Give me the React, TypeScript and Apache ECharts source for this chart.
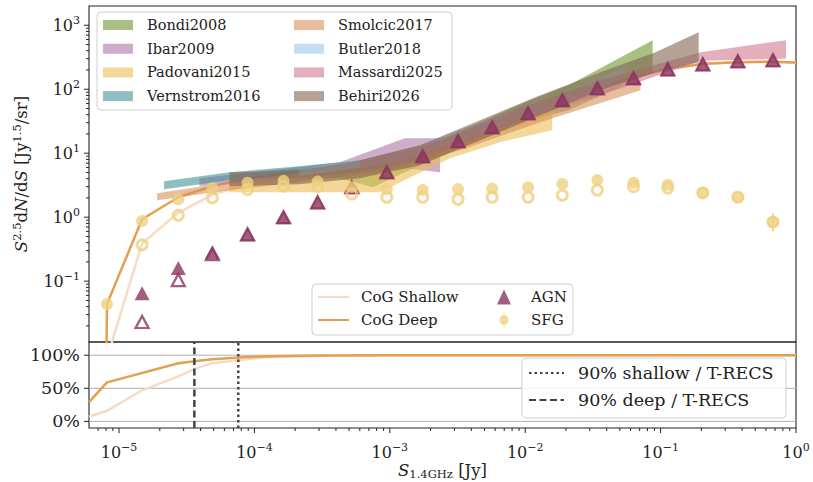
import React, { useEffect, useRef } from "react";
import * as echarts from "echarts";

const FONT = "DejaVu Serif";
const INK = "#222222";

// Axis extents
const S_MIN = 6e-6;
const S_MAX = 1;
const COUNTS_MIN = 0.0112;
const COUNTS_MAX = 2000;
const COMPL_MIN = -10;
const COMPL_MAX = 120;

// Flux-density bin centres [Jy]
const binCentres = [1.48e-5, 2.74e-5, 4.89e-5, 8.9e-5, 1.64e-4, 2.93e-4, 5.24e-4, 9.5e-4, 1.75e-3, 3.19e-3, 5.7e-3, 1.05e-2, 1.88e-2, 3.41e-2, 6.31e-2, 0.113, 0.205, 0.372, 0.676];
const sfgBins = [8.15e-6, 1.48e-5, 2.74e-5, 4.89e-5, 8.9e-5, 1.64e-4, 2.93e-4, 5.24e-4, 9.5e-4, 1.75e-3, 3.19e-3, 5.7e-3, 1.05e-2, 1.88e-2, 3.41e-2, 6.31e-2, 0.113, 0.205, 0.372, 0.676];

// Euclidean-normalised counts S^2.5 dN/dS [Jy^1.5/sr]
const agnDeep = [0.065, 0.16, 0.284, 0.54, 1.0, 1.71, 2.94, 5.05, 8.97, 15.4, 25.5, 42.2, 67.3, 104, 149, 205, 245, 274, 284];
const agnShallow = [0.023, 0.104, 0.264, 0.54, 1.0, 1.71, 2.94, 5.05, 8.97, 15.4, 25.5, 42.2, 67.3, 104, 149, 205, 245, 274, 284];
const sfgDeep = [0.044, 0.87, 1.9, 2.84, 3.45, 3.7, 3.6, 2.95, 2.75, 2.65, 2.75, 2.8, 2.95, 3.3, 3.8, 3.45, 3.2, 2.4, 2.05, 0.84];
const sfgShallow = [0.37, 1.07, 2.0, 2.7, 3.05, 3.0, 2.3, 2.05, 2.05, 1.9, 2.05, 2.05, 2.2, 2.65, 3.0, 2.85, 2.4, 2.05, 0.84];
// [S, lower, upper]
const sfgErrorBars = [[0.676, 0.6, 1.15]];

// Total counts recovered through the curve of growth
const cogDeepS = [7.9e-6, 8.15e-6, 1.48e-5, 2.74e-5, 4.89e-5, 8.9e-5, 1.64e-4, 2.93e-4, 5.24e-4, 9.5e-4, 1.75e-3, 3.19e-3, 5.7e-3, 1.05e-2, 1.88e-2, 3.41e-2, 6.31e-2, 0.113, 0.205, 0.372, 0.676, 1.0];
const cogDeepCounts = [1e-4, 0.044, 0.93, 2.05, 3.05, 4.0, 4.8, 5.3, 5.9, 7.8, 11.6, 18.0, 28.0, 45.0, 70.0, 108, 152, 208, 250, 265, 270, 262];
const cogShallowS = [8.15e-6, 1.48e-5, 2.74e-5, 4.89e-5, 8.9e-5, 1.64e-4, 2.93e-4, 5.24e-4, 9.5e-4, 1.75e-3, 3.19e-3, 5.7e-3, 1.05e-2, 1.88e-2, 3.41e-2, 6.31e-2, 0.113, 0.205, 0.372, 0.676, 1.0];
const cogShallowCounts = [0.0063, 0.39, 1.17, 2.26, 3.25, 4.1, 4.7, 5.2, 7.1, 10.9, 17.3, 27.5, 44, 69, 106, 150, 206, 248, 263, 268, 260];

// Completeness [%]
const complDeepS = [6e-6, 8.15e-6, 2.74e-5, 3.6e-5, 4.89e-5, 8.9e-5, 1.64e-4, 2.93e-4, 1e-3, 1.0];
const complDeep = [29, 59, 88, 91, 94, 97.5, 99, 99.5, 100, 100];
const complShallowS = [6e-6, 8.15e-6, 1.48e-5, 2.74e-5, 3.6e-5, 4.89e-5, 8.9e-5, 1.2e-4, 2.93e-4, 1e-3, 1.0];
const complShallow = [7, 16, 47, 68, 79, 88, 94, 97, 99, 100, 100];

// 90% completeness flux limits [Jy]
const shallow90 = 7.6e-5;
const deep90 = 3.6e-5;

// Literature source counts: [S, lower, upper]
const bondi2008 = [[1.53e-4, 3.79, 5.42], [4.26e-4, 4.07, 6.27], [7.48e-4, 2.94, 7.78], [1.67e-3, 6.49, 12.0], [4.64e-3, 16.0, 30.5], [1.09e-2, 32.8, 67.3], [2.09e-2, 47.0, 115], [8.73e-2, 184, 583]];
const ibar2009 = [[3.92e-5, 3.05, 4.07], [1.29e-4, 3.79, 5.42], [4.26e-4, 4.53, 7.23], [1.29e-3, 5.84, 17.1], [2.35e-3, 5.05, 17.1]];
const padovani2015 = [[6.53e-5, 2.46, 3.52], [3.03e-4, 2.46, 4.37], [8.43e-4, 2.46, 5.84], [2.78e-3, 8.36, 16.0], [6.53e-3, 14.9, 27.4], [1.58e-2, 22.9, 47.0]];
const vernstrom2016 = [[2.15e-5, 2.74, 3.65], [6.53e-5, 3.79, 5.05], [2.15e-4, 4.37, 6.27], [6.0e-4, 5.05, 7.78], [1.67e-3, 7.78, 12.0]];
const smolcic2017 = [[1.91e-5, 1.84, 2.37], [6.53e-5, 2.64, 3.52], [2.15e-4, 3.52, 5.05], [8.43e-4, 5.05, 7.78], [3.3e-3, 11.1, 17.1], [1.29e-2, 30.5, 50.5], [7.11e-2, 96.4, 138]];
const butler2018 = [[2.15e-4, 4.37, 5.42], [1.19e-3, 7.23, 10.4], [4.64e-3, 21.3, 30.5], [1.82e-2, 54.2, 77.8], [5.51e-2, 160, 229]];
const massardi2025 = [[6.0e-4, 5.05, 7.78], [2.35e-3, 10.4, 16.0], [9.18e-3, 32.8, 50.5], [3.59e-2, 80.6, 138], [0.198, 280, 379], [0.843, 300, 583]];
const behiri2026 = [[6.53e-5, 3.05, 5.05], [2.15e-4, 3.28, 5.42], [6.0e-4, 4.07, 7.78], [1.67e-3, 6.49, 13.3], [4.64e-3, 16.0, 32.8], [1.29e-2, 39.2, 80.6], [3.59e-2, 96.4, 184], [9.18e-2, 184, 379], [0.191, 264, 778]];

// Axis decoration values
const majorS = [1e-5, 1e-4, 1e-3, 1e-2, 1e-1, 1];
const majorCounts = [0.1, 1, 10, 100, 1000];
const complTicks = [0, 50, 100];

const AGN_COLOR = "#8c345f";
const SFG_COLOR = "#efd181";
const COG_DEEP = "#e3a052";
const COG_SHALLOW = "#f5dcc3";

const tickRich = {
  b: { fontFamily: FONT, fontSize: 16, lineHeight: 20, color: INK },
  s: { fontFamily: FONT, fontSize: 11, lineHeight: 12, verticalAlign: "top", color: INK },
};

const nameRich = {
  i: { fontFamily: FONT, fontStyle: "italic", fontSize: 16.5, lineHeight: 20, color: INK },
  r: { fontFamily: FONT, fontSize: 16.5, lineHeight: 20, color: INK },
  s: { fontFamily: FONT, fontSize: 11.5, lineHeight: 12, verticalAlign: "top", color: INK },
  u: { fontFamily: FONT, fontSize: 11.5, lineHeight: 12, verticalAlign: "bottom", color: INK },
};

function powerLabel(v: number): string {
  const l = Math.log10(v);
  const e = Math.round(l);
  if (Math.abs(l - e) > 1e-6) return "";
  const exp = e < 0 ? "\u2212" + String(-e) : String(e);
  return `{b|10}{s|${exp}}`;
}

function minorValues(lo: number, hi: number): number[] {
  const out: number[] = [];
  for (let k = -7; k <= 4; k++) {
    for (let m = 2; m <= 9; m++) {
      const v = m * Math.pow(10, k);
      if (v > lo * 1.0001 && v < hi * 0.9999) out.push(v);
    }
  }
  return out;
}

function bandSeries(name: string, pts: number[][], color: string) {
  return {
    name,
    type: "custom",
    xAxisIndex: 0,
    yAxisIndex: 0,
    z: 3,
    silent: true,
    data: pts,
    encode: { x: 0, y: [1, 2] },
    itemStyle: { color },
    renderItem: (params: any, api: any) => {
      if (params.dataIndex !== 0) return null;
      const top = pts.map((p) => api.coord([p[0], p[2]]));
      const bottom = pts
        .slice()
        .reverse()
        .map((p) => api.coord([p[0], p[1]]));
      return {
        type: "polygon",
        shape: { points: top.concat(bottom) },
        style: { fill: color },
      };
    },
  };
}

// ticks along the bottom of the completeness panel
function xTickSeries(values: number[], len: number) {
  return {
    type: "custom",
    xAxisIndex: 1,
    yAxisIndex: 1,
    silent: true,
    z: 8,
    data: values.map((v) => [v, COMPL_MIN]),
    renderItem: (_p: any, api: any) => {
      const p = api.coord([api.value(0), COMPL_MIN]);
      return {
        type: "line",
        shape: { x1: p[0], y1: p[1], x2: p[0], y2: p[1] + len },
        style: { stroke: INK, lineWidth: 1 },
      };
    },
  };
}

// ticks along the left edge of a panel
function yTickSeries(grid: number, values: number[], len: number) {
  return {
    type: "custom",
    xAxisIndex: grid,
    yAxisIndex: grid,
    silent: true,
    z: 8,
    data: values.map((v) => [S_MIN, v]),
    renderItem: (_p: any, api: any) => {
      const p = api.coord([S_MIN, api.value(1)]);
      return {
        type: "line",
        shape: { x1: p[0] - len, y1: p[1], x2: p[0], y2: p[1] },
        style: { stroke: INK, lineWidth: 1 },
      };
    },
  };
}

function zip(xs: number[], ys: number[]) {
  return xs.map((x, i) => [x, ys[i]]);
}

function buildOption() {
  const bands: [string, number[][], string][] = [
    ["Bondi2008", bondi2008, "rgba(110,150,50,0.6)"],
    ["Ibar2009", ibar2009, "rgba(165,105,160,0.55)"],
    ["Padovani2015", padovani2015, "rgba(235,190,85,0.6)"],
    ["Vernstrom2016", vernstrom2016, "rgba(70,145,150,0.6)"],
    ["Smolcic2017", smolcic2017, "rgba(215,145,90,0.6)"],
    ["Butler2018", butler2018, "rgba(160,200,235,0.6)"],
    ["Massardi2025", massardi2025, "rgba(210,120,145,0.6)"],
    ["Behiri2026", behiri2026, "rgba(130,100,80,0.6)"],
  ];

  const legendText = (size: number, lh: number, pad: number) => ({
    fontFamily: FONT,
    fontSize: size,
    lineHeight: lh,
    color: INK,
    padding: [0, 0, 0, pad],
  });

  const legendBase = {
    orient: "vertical",
    padding: 0,
    itemGap: 0,
    selectedMode: false,
    z: 6,
  };

  // line-only legend keys (no marker in the middle of the stroke)
  const lineKey = { itemStyle: { opacity: 0 } };

  const frame = (x: number, y: number, w: number, h: number) => ({
    type: "rect",
    z: 5,
    silent: true,
    shape: { x, y, width: w, height: h, r: 4 },
    style: { fill: "rgba(255,255,255,0.85)", stroke: "#cfcfcf", lineWidth: 1 },
  });

  const logX = (grid: number, labels: boolean) => ({
    type: "log",
    logBase: 10,
    gridIndex: grid,
    min: S_MIN,
    max: S_MAX,
    axisLine: { show: false },
    axisTick: { show: false },
    splitLine: { show: false },
    axisLabel: labels
      ? { show: true, margin: 14, formatter: powerLabel, rich: tickRich }
      : { show: false },
    name: labels ? "{i|S}{u|1.4GHz}{r| [Jy]}" : "",
    nameLocation: "middle",
    nameGap: 32,
    nameTextStyle: { rich: nameRich },
  });

  return {
    animation: false,
    backgroundColor: "#ffffff",
    textStyle: { fontFamily: FONT },
    grid: [
      { left: 89, top: 6, width: 707, height: 336, show: true, borderColor: INK, borderWidth: 1.1, backgroundColor: "transparent" },
      { left: 89, top: 342, width: 707, height: 86, show: true, borderColor: INK, borderWidth: 1.1, backgroundColor: "transparent" },
    ],
    xAxis: [logX(0, false), logX(1, true)],
    yAxis: [
      {
        type: "log",
        logBase: 10,
        gridIndex: 0,
        min: COUNTS_MIN,
        max: COUNTS_MAX,
        axisLine: { show: false },
        axisTick: { show: false },
        splitLine: { show: false },
        axisLabel: { margin: 9, formatter: powerLabel, rich: tickRich },
        name: "{i|S}{s|2.5}{r|d}{i|N}{r|/d}{i|S}{r| [Jy}{s|1.5}{r|/sr]}",
        nameLocation: "middle",
        nameGap: 58,
        nameTextStyle: { rich: nameRich },
      },
      {
        type: "value",
        gridIndex: 1,
        min: COMPL_MIN,
        max: COMPL_MAX,
        axisLine: { show: false },
        axisTick: { show: false },
        splitLine: { show: false },
        axisLabel: {
          customValues: complTicks,
          margin: 9,
          fontFamily: FONT,
          fontSize: 17.5,
          color: INK,
          formatter: (v: number) => `${v}%`,
        },
      },
    ],
    legend: [
      {
        ...legendBase,
        data: ["Bondi2008", "Ibar2009", "Padovani2015", "Vernstrom2016"],
        left: 103,
        top: 13.2,
        icon: "rect",
        itemWidth: 30,
        itemHeight: 10,
        textStyle: legendText(14.5, 23.7, 9),
      },
      {
        ...legendBase,
        data: ["Smolcic2017", "Butler2018", "Massardi2025", "Behiri2026"],
        left: 294,
        top: 13.2,
        icon: "rect",
        itemWidth: 30,
        itemHeight: 10,
        textStyle: legendText(14.5, 23.7, 9),
      },
      {
        ...legendBase,
        ...lineKey,
        data: ["CoG Shallow", "CoG Deep"],
        left: 317,
        top: 285.5,
        itemWidth: 31,
        itemHeight: 10,
        textStyle: legendText(15, 23, 7),
      },
      {
        ...legendBase,
        data: [
          { name: "AGN", icon: "triangle" },
          { name: "SFG", icon: "path://M4.3,0H5.7V16H4.3Z M5,3A5,5 0 1 1 4.99,3Z" },
        ],
        left: 497,
        top: 285.5,
        itemWidth: 14,
        itemHeight: 15,
        textStyle: legendText(15, 23, 15),
      },
      {
        ...legendBase,
        ...lineKey,
        data: ["90% shallow / T-RECS", "90% deep / T-RECS"],
        left: 528,
        top: 359.5,
        itemWidth: 35,
        itemHeight: 10,
        textStyle: legendText(17.5, 27, 9),
      },
    ],
    graphic: [frame(97, 12, 355, 98), frame(312, 284, 261, 51), frame(522, 358, 264, 60)],
    series: [
      // curves of growth (upper panel)
      {
        name: "CoG Shallow",
        type: "line",
        xAxisIndex: 0,
        yAxisIndex: 0,
        z: 2,
        symbol: "none",
        clip: true,
        silent: true,
        data: zip(cogShallowS, cogShallowCounts),
        lineStyle: { color: COG_SHALLOW, width: 2.5 },
        itemStyle: { color: COG_SHALLOW },
      },
      {
        name: "CoG Deep",
        type: "line",
        xAxisIndex: 0,
        yAxisIndex: 0,
        z: 2,
        symbol: "none",
        clip: true,
        silent: true,
        data: zip(cogDeepS, cogDeepCounts),
        lineStyle: { color: COG_DEEP, width: 2.5 },
        itemStyle: { color: COG_DEEP },
      },
      ...bands.map(([n, pts, c]) => bandSeries(n, pts, c)),
      // AGN
      {
        name: "AGN (shallow)",
        type: "scatter",
        xAxisIndex: 0,
        yAxisIndex: 0,
        z: 4,
        silent: true,
        symbol: "triangle",
        symbolSize: [13, 12],
        data: zip(binCentres, agnShallow),
        itemStyle: { color: "rgba(255,255,255,0)", borderColor: AGN_COLOR, borderWidth: 2.3 },
      },
      {
        name: "AGN",
        type: "scatter",
        xAxisIndex: 0,
        yAxisIndex: 0,
        z: 5,
        silent: true,
        symbol: "triangle",
        symbolSize: [15, 14],
        data: zip(binCentres, agnDeep),
        itemStyle: { color: AGN_COLOR },
      },
      // SFG
      {
        name: "SFG (shallow)",
        type: "scatter",
        xAxisIndex: 0,
        yAxisIndex: 0,
        z: 6,
        silent: true,
        symbol: "circle",
        symbolSize: 10,
        data: zip(binCentres, sfgShallow),
        itemStyle: { color: "rgba(255,255,255,0)", borderColor: SFG_COLOR, borderWidth: 3 },
      },
      {
        name: "SFG",
        type: "scatter",
        xAxisIndex: 0,
        yAxisIndex: 0,
        z: 7,
        silent: true,
        symbol: "circle",
        symbolSize: 12,
        data: zip(sfgBins, sfgDeep),
        itemStyle: { color: SFG_COLOR },
      },
      {
        type: "custom",
        xAxisIndex: 0,
        yAxisIndex: 0,
        z: 7,
        silent: true,
        data: sfgErrorBars,
        encode: { x: 0, y: [1, 2] },
        renderItem: (_p: any, api: any) => {
          const a = api.coord([api.value(0), api.value(1)]);
          const b = api.coord([api.value(0), api.value(2)]);
          return {
            type: "line",
            shape: { x1: a[0], y1: a[1], x2: b[0], y2: b[1] },
            style: { stroke: SFG_COLOR, lineWidth: 1.8 },
          };
        },
      },
      // completeness panel: horizontal grid lines
      {
        type: "custom",
        xAxisIndex: 1,
        yAxisIndex: 1,
        z: 1,
        silent: true,
        data: complTicks.map((v) => [S_MIN, v]),
        renderItem: (_p: any, api: any) => {
          const a = api.coord([S_MIN, api.value(1)]);
          const b = api.coord([S_MAX, api.value(1)]);
          return {
            type: "line",
            shape: { x1: a[0], y1: a[1], x2: b[0], y2: b[1] },
            style: { stroke: "#b0b0b0", lineWidth: 1 },
          };
        },
      },
      {
        name: "CoG Shallow",
        type: "line",
        xAxisIndex: 1,
        yAxisIndex: 1,
        z: 2,
        symbol: "none",
        clip: true,
        silent: true,
        data: zip(complShallowS, complShallow),
        lineStyle: { color: COG_SHALLOW, width: 2.5 },
        itemStyle: { color: COG_SHALLOW },
      },
      {
        name: "CoG Deep",
        type: "line",
        xAxisIndex: 1,
        yAxisIndex: 1,
        z: 2,
        symbol: "none",
        clip: true,
        silent: true,
        data: zip(complDeepS, complDeep),
        lineStyle: { color: COG_DEEP, width: 2.5 },
        itemStyle: { color: COG_DEEP },
      },
      {
        name: "90% shallow / T-RECS",
        type: "line",
        xAxisIndex: 1,
        yAxisIndex: 1,
        z: 3,
        symbol: "none",
        silent: true,
        data: [
          [shallow90, COMPL_MIN],
          [shallow90, COMPL_MAX],
        ],
        lineStyle: { color: "#444444", width: 2.5, type: [2.5, 3] },
        itemStyle: { color: "#444444" },
      },
      {
        name: "90% deep / T-RECS",
        type: "line",
        xAxisIndex: 1,
        yAxisIndex: 1,
        z: 3,
        symbol: "none",
        silent: true,
        data: [
          [deep90, COMPL_MIN],
          [deep90, COMPL_MAX],
        ],
        lineStyle: { color: "#444444", width: 2.5, type: [7, 3.5] },
        itemStyle: { color: "#444444" },
      },
      // axis ticks
      xTickSeries(majorS, 5),
      xTickSeries(minorValues(S_MIN, S_MAX), 3),
      yTickSeries(0, majorCounts, 5),
      yTickSeries(0, minorValues(COUNTS_MIN, COUNTS_MAX), 3),
      yTickSeries(1, complTicks, 5),
    ],
  };
}

export default function App() {
  const ref = useRef<HTMLDivElement>(null);
  useEffect(() => {
    if (!ref.current) return;
    const chart = echarts.init(ref.current, undefined, { renderer: "svg" });
    chart.setOption(buildOption() as any);
    return () => chart.dispose();
  }, []);
  return (
    <div
      ref={ref}
      style={{ position: "fixed", left: 0, top: 0, width: 813, height: 482, background: "#fff" }}
    />
  );
}
